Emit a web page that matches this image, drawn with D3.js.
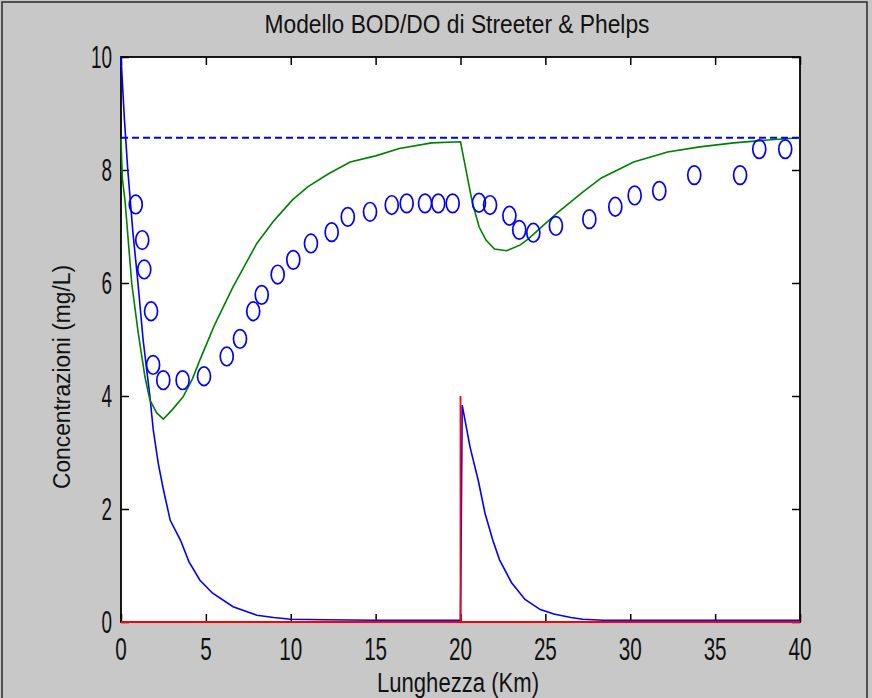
<!DOCTYPE html>
<html><head><meta charset="utf-8">
<script src="https://cdn.jsdelivr.net/npm/d3@7/dist/d3.min.js"></script>
<style>body{margin:0;background:#c8c8c8}svg{display:block}</style>
</head><body><svg id="chart" width="872" height="698"></svg>
<script>
// ---- data ----
const xTicks = [0, 5, 10, 15, 20, 25, 30, 35, 40];
const yTicks = [0, 2, 4, 6, 8, 10];
const titleText = "Modello BOD/DO di Streeter & Phelps";
const xLabel = "Lunghezza (Km)";
const yLabel = "Concentrazioni (mg/L)";

// BOD (blue solid)
const bodX = [0, 0.2, 0.4, 0.7, 1.0, 1.3, 1.7, 1.9, 2.2, 2.5, 2.9, 3.5, 4.0, 4.65, 5.4, 6.6, 8.0, 9.0, 10.0, 12, 15, 20.0,
              20.1, 20.56, 21.05, 21.44, 21.9, 22.3, 23.0, 23.8, 24.7, 25.5, 26.5, 27.2, 28.4, 32, 40];
const bodY = [10, 8.9, 8.0, 6.9, 6.0, 5.0, 4.0, 3.4, 2.8, 2.34, 1.8, 1.45, 1.07, 0.74, 0.51, 0.27, 0.12, 0.08, 0.05, 0.04, 0.03, 0.03,
              3.84, 3.1, 2.5, 1.93, 1.45, 1.1, 0.7, 0.4, 0.22, 0.14, 0.08, 0.05, 0.03, 0.03, 0.03];

// DO model (green)
const doX = [0, 0.08, 0.24, 0.63, 1.0, 1.41, 1.7, 2.1, 2.5, 3.0, 3.65, 4.2, 4.65, 5.5, 6.6, 8.0, 9.0, 10.1, 11.0, 12.2, 13.5, 15.0, 16.4, 18.3, 20.0,
             20.44, 20.7, 21.1, 21.5, 22.0, 22.7, 23.5, 24.0, 24.7, 25.7, 27.2, 28.3, 30.2, 32.2, 34.1, 36.1, 38.1, 40];
const doY = [8.55, 7.85, 7.45, 6.0, 5.15, 4.34, 3.93, 3.7, 3.59, 3.75, 3.98, 4.3, 4.64, 5.25, 5.93, 6.7, 7.1, 7.47, 7.7, 7.93, 8.14, 8.25, 8.38, 8.48, 8.5,
             7.82, 7.42, 6.99, 6.76, 6.6, 6.57, 6.67, 6.78, 6.97, 7.24, 7.61, 7.86, 8.14, 8.32, 8.41, 8.48, 8.53, 8.57];

// DO observations (blue circles)
const obsX = [0.87, 1.25, 1.37, 1.77, 1.89, 2.49, 3.63, 4.89, 6.23, 7.01, 7.79, 8.29, 9.23, 10.15, 11.19, 12.41, 13.36, 14.67, 15.95, 16.83, 17.91, 18.69, 19.54,
              21.09, 21.74, 22.88, 23.46, 24.29, 25.62, 27.59, 29.12, 30.26, 31.71, 33.77, 36.47, 37.60, 39.13];
const obsY = [7.39, 6.76, 6.24, 5.50, 4.55, 4.28, 4.28, 4.35, 4.70, 5.01, 5.50, 5.79, 6.15, 6.41, 6.70, 6.90, 7.17, 7.26, 7.38, 7.41, 7.41, 7.41, 7.41,
              7.42, 7.38, 7.19, 6.94, 6.89, 7.01, 7.13, 7.35, 7.55, 7.63, 7.91, 7.91, 8.37, 8.37];

// Discharge (red)
const redX = [0, 20, 20, 20, 40];
const redY = [0, 0, 4, 0, 0];

// Saturation (blue dashed)
const satX = [0, 40];
const satY = [8.57, 8.57];

// ---- layout ----
const L = 121, R = 800, T = 57, B = 622;
const svg = d3.select("#chart");
const x = d3.scaleLinear().domain([0, 40]).range([L, R]);
const y = d3.scaleLinear().domain([0, 10]).range([B, T]);

svg.append("rect").attr("width", 872).attr("height", 698).attr("fill", "#c8c8c8");
svg.append("rect").attr("x", 2).attr("y", 2).attr("width", 865).attr("height", 720)
  .attr("fill", "none").attr("stroke", "#2a2a2a").attr("stroke-width", 1.5);
svg.append("rect").attr("x", L).attr("y", T).attr("width", R - L).attr("height", B - T).attr("fill", "#fff");

// axes (inward ticks on all sides) + frame, drawn beneath the data
const tk = 8;
const axB = d3.axisBottom(x).tickValues(xTicks).tickSizeInner(-tk).tickSizeOuter(0).tickFormat("");
const axT = d3.axisTop(x).tickValues(xTicks).tickSizeInner(-tk).tickSizeOuter(0).tickFormat("");
const axLft = d3.axisLeft(y).tickValues(yTicks).tickSizeInner(-tk).tickSizeOuter(0).tickFormat("");
const axRt = d3.axisRight(y).tickValues(yTicks).tickSizeInner(-tk).tickSizeOuter(0).tickFormat("");
[[axB, `translate(0,${B})`], [axT, `translate(0,${T})`], [axLft, `translate(${L},0)`], [axRt, `translate(${R},0)`]].forEach(([a, t]) => {
  const gg = svg.append("g").attr("transform", t).call(a);
  gg.select(".domain").remove();
  gg.selectAll(".tick line").attr("stroke", "#000").attr("stroke-width", 1.5);
});
svg.append("rect").attr("x", L).attr("y", T).attr("width", R - L).attr("height", B - T)
  .attr("fill", "none").attr("stroke", "#000").attr("stroke-width", 1.8);

const clip = svg.append("defs").append("clipPath").attr("id", "pc");
clip.append("rect").attr("x", L - 1).attr("y", T - 1).attr("width", R - L + 2).attr("height", B - T + 2);
const g = svg.append("g").attr("clip-path", "url(#pc)");

const line = (xs, ys) => d3.line().x((d, i) => x(xs[i])).y((d, i) => y(ys[i]))(xs);

g.append("path").attr("d", line(bodX, bodY)).attr("fill", "none").attr("stroke", "#0000ff").attr("stroke-width", 1.6);
g.append("path").attr("d", line(doX, doY)).attr("fill", "none").attr("stroke", "#008000").attr("stroke-width", 1.6);
g.selectAll("ellipse.obs").data(obsX).join("ellipse").attr("class", "obs")
  .attr("cx", (d) => x(d)).attr("cy", (d, i) => y(obsY[i]))
  .attr("rx", 6.5).attr("ry", 9.3)
  .attr("fill", "none").attr("stroke", "#0000ff").attr("stroke-width", 1.7);
g.append("path").attr("d", line(redX, redY)).attr("fill", "none").attr("stroke", "#ff0000").attr("stroke-width", 1.8);
g.append("path").attr("d", line(satX, satY)).attr("fill", "none").attr("stroke", "#0000ff")
  .attr("stroke-width", 2).attr("stroke-dasharray", "7,4");

const font = "'Liberation Sans', Arial, sans-serif";
// tick labels
svg.append("g").selectAll("text").data(xTicks).join("text")
  .attr("x", (d) => x(d)).attr("y", 660).attr("text-anchor", "middle")
  .attr("font-family", font).attr("font-size", 31).attr("fill", "#111")
  .attr("textLength", (d) => String(d).length * 11.5).attr("lengthAdjust", "spacingAndGlyphs")
  .text((d) => d);
svg.append("g").selectAll("text").data(yTicks).join("text")
  .attr("x", 112).attr("y", (d) => y(d) + 11).attr("text-anchor", "end")
  .attr("font-family", font).attr("font-size", 31).attr("fill", "#111")
  .attr("textLength", (d) => String(d).length * 10.5).attr("lengthAdjust", "spacingAndGlyphs")
  .text((d) => d);

// title and labels
svg.append("text").attr("x", 457).attr("y", 33).attr("text-anchor", "middle")
  .attr("font-family", font).attr("font-size", 25).attr("fill", "#111")
  .attr("textLength", 385).attr("lengthAdjust", "spacingAndGlyphs").text(titleText);
svg.append("text").attr("x", 458).attr("y", 692).attr("text-anchor", "middle")
  .attr("font-family", font).attr("font-size", 27).attr("fill", "#111")
  .attr("textLength", 162).attr("lengthAdjust", "spacingAndGlyphs").text(xLabel);
svg.append("text").attr("transform", "translate(70,377) rotate(-90)").attr("text-anchor", "middle")
  .attr("font-family", font).attr("font-size", 23).attr("fill", "#111")
  .attr("textLength", 224).attr("lengthAdjust", "spacingAndGlyphs").text(yLabel);
</script>
</body></html>
